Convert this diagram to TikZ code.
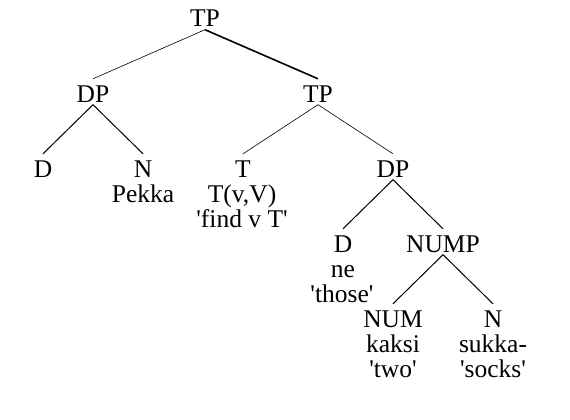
\documentclass[tikz,border=0pt]{standalone}
\usepackage{fontspec}
\setmainfont{Liberation Serif}
\newcommand{\qs}{\textquotesingle}
\begin{document}
\begin{tikzpicture}[x=1pt,y=-1pt,
  lbl/.style={anchor=base,inner sep=0pt,text height=23pt,text depth=2.5pt,font=\fontsize{25.5}{25.5}\selectfont},
  txt/.style={anchor=base,inner sep=0pt,font=\fontsize{25.5}{25.5}\selectfont},
  edgethin/.style={line width=0.6pt},
  edgemid/.style={line width=1pt},
  edgethick/.style={line width=1.6pt}]
\useasboundingbox[fill=white] (0,0) rectangle (570,420);
\node[lbl] (tp) at (205,27) {TP};
\node[lbl] (dp1) at (93,102) {DP};
\node[lbl] (tp2) at (318,102) {TP};
\node[lbl] (d1) at (43,177) {D};
\node[lbl] (n1) at (143,177) {N};
\node[txt] (pekka) at (143,202) {Pekka};
\node[lbl] (t) at (243,177) {T};
\node[txt] (tvv) at (242,202) {T(v,V)};
\node[txt] (find) at (242,227) {\qs find v T\qs};
\node[lbl] (dp2) at (393,177) {DP};
\node[lbl] (d2) at (343,252) {D};
\node[txt] (ne) at (343,277) {ne};
\node[txt] (those) at (342,302) {\qs those\qs};
\node[lbl] (nump) at (443,252) {NUMP};
\node[lbl] (num) at (393,327) {NUM};
\node[txt] (kaksi) at (393,352) {kaksi};
\node[txt] (two) at (393,377) {\qs two\qs};
\node[lbl] (n2) at (493,327) {N};
\node[txt] (sukka) at (493,352) {sukka-};
\node[txt] (socks) at (493,377) {\qs socks\qs};
\draw[edgethin] (tp.south) -- (dp1.north);
\draw[edgethick] (tp.south) -- (tp2.north);
\draw[edgemid] (dp1.south) -- (d1.north);
\draw[edgemid] (dp1.south) -- (n1.north);
\draw[edgethin] (tp2.south) -- (t.north);
\draw[edgethin] (tp2.south) -- (dp2.north);
\draw[edgemid] (dp2.south) -- (d2.north);
\draw[edgemid] (dp2.south) -- (nump.north);
\draw[edgemid] (nump.south) -- (num.north);
\draw[edgemid] (nump.south) -- (n2.north);
\end{tikzpicture}
\end{document}
